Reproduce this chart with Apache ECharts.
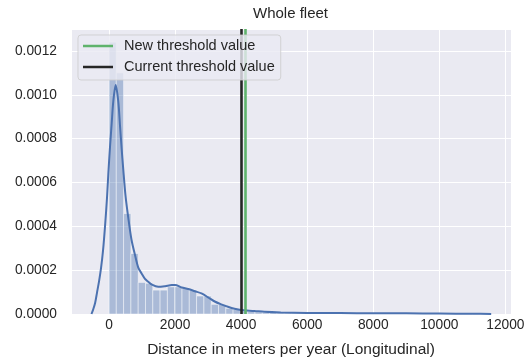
<!DOCTYPE html>
<html>
<head>
<meta charset="utf-8">
<script src="https://cdn.jsdelivr.net/npm/echarts@6/dist/echarts.min.js"></script>
<style>
  html, body { margin: 0; padding: 0; background: #ffffff; }
  #chart { width: 529px; height: 364px; }
</style>
</head>
<body>
<div id="chart"></div>
<script>
// Histogram of yearly longitudinal distance (density), 50 equal bins from 0 m
const binWidth = 221;
const binDensity = [
  0.00124, 0.00110, 0.000458, 0.000276, 0.000144, 0.000140, 0.000109, 0.000109, 0.000124, 0.000124,
  0.000118, 0.000109, 0.000082, 0.000082, 0.000044, 0.000044, 0.000026, 0.000021, 0.000014, 0.000011,
  0.000009, 0.000007, 0.000006, 0.000005, 0.000004, 0.000003, 0.000003, 0.000002, 0.000002, 0.000002,
  0.000001, 0.000001, 0.000001, 0.000001, 0.0000005, 0.0000005, 0.0000005, 0.0000005, 0.0000005, 0,
  0.0000005, 0, 0.0000005, 0, 0, 0.0000005, 0, 0, 0, 0.0000005
];

// Kernel density estimate: distance (m) and density
const kdeX = [
  -530, -480, -420, -360, -300, -240, -180, -120, -60, -20,
  30, 82, 130, 202, 281, 333, 380, 432, 500, 583,
  680, 786, 890, 988, 1090, 1188, 1300, 1490, 1700, 1900,
  2000, 2200, 2400, 2600, 2800, 3000, 3200, 3400, 3600, 3800,
  4000, 4400, 4700, 5200, 6000, 7000, 8000, 9000, 10000, 11000, 11570
];
const kdeY = [
  0, 0.00002, 0.00005, 0.0001, 0.00015, 0.00021, 0.00029, 0.0004, 0.00053, 0.00064,
  0.00076, 0.00087, 0.00097, 0.001045, 0.00097, 0.00086, 0.00076, 0.00066, 0.00054, 0.00044,
  0.00034, 0.00027, 0.00021, 0.000185, 0.00016, 0.000147, 0.000134, 0.000124, 0.000127, 0.000132,
  0.000132, 0.000121, 0.000114, 0.000104, 0.000094, 0.000076, 0.000057, 0.000044, 0.000033, 0.000024,
  0.000018, 0.000014, 0.00001, 0.000007, 0.000005, 0.000004, 0.000003, 0.000003, 0.000002, 0.000001, 0
];

// Threshold values (m)
const newThreshold = 4130;
const currentThreshold = 4000;

const yTicks = ['0.0000', '0.0002', '0.0004', '0.0006', '0.0008', '0.0010', '0.0012'];

const textColor = '#262626';
const fontFamily = '"Liberation Sans", Arial, sans-serif';

const histData = binDensity.map((d, i) => [i * binWidth, (i + 1) * binWidth, d]);
const kdeData = kdeX.map((x, i) => [x, kdeY[i]]);

const chart = echarts.init(document.getElementById('chart'), null, { renderer: 'canvas' });

chart.setOption({
  animation: false,
  backgroundColor: '#ffffff',
  title: {
    text: 'Whole fleet',
    left: 253,
    top: 6,
    padding: 0,
    textStyle: { color: textColor, fontSize: 15, fontWeight: 'normal', fontFamily: fontFamily }
  },
  grid: {
    left: 71, right: 18, top: 29, bottom: 50,
    show: true, backgroundColor: '#eaeaf2', borderWidth: 0
  },
  legend: {
    orient: 'vertical',
    left: 78, top: 35,
    z: 10,
    padding: [3, 6, 5, 5],
    itemGap: 5,
    itemWidth: 30, itemHeight: 2.5,
    icon: 'rect',
    backgroundColor: 'rgba(234,234,242,0.8)',
    borderColor: 'rgba(204,204,204,0.8)',
    borderWidth: 1,
    borderRadius: 3,
    textStyle: {
      color: textColor, fontSize: 14.5, fontFamily: fontFamily, lineHeight: 16,
      padding: [0, 0, 0, 6]
    },
    data: ['New threshold value', 'Current threshold value']
  },
  xAxis: {
    type: 'value',
    min: -1150, max: 12170,
    splitNumber: 7,
    name: 'Distance in meters per year (Longitudinal)',
    nameLocation: 'middle',
    nameGap: 28,
    nameTextStyle: { color: textColor, fontSize: 15.5, fontFamily: fontFamily },
    axisLine: { show: false },
    axisTick: { show: false },
    axisLabel: {
      color: textColor, fontSize: 13.75, fontFamily: fontFamily, margin: 4,
      showMinLabel: false, showMaxLabel: false,
      formatter: function (v) { return String(v); }
    },
    splitLine: { show: true, lineStyle: { color: '#ffffff', width: 1 } }
  },
  yAxis: {
    type: 'value',
    min: 0, max: 0.0013, interval: 0.0002,
    axisLine: { show: false },
    axisTick: { show: false },
    axisLabel: {
      color: textColor, fontSize: 13.75, fontFamily: fontFamily, margin: 14,
      showMaxLabel: false,
      formatter: function (v) {
        const idx = Math.round(v / 0.0002);
        return Math.abs(v - idx * 0.0002) < 1e-9 && yTicks[idx] ? yTicks[idx] : '';
      }
    },
    splitLine: { show: true, lineStyle: { color: '#ffffff', width: 1 } }
  },
  series: [
    {
      name: 'hist',
      type: 'custom',
      data: histData,
      encode: { x: [0, 1], y: 2 },
      z: 2,
      renderItem: function (params, api) {
        const p0 = api.coord([api.value(0), api.value(2)]);
        const p1 = api.coord([api.value(1), 0]);
        return {
          type: 'rect',
          shape: { x: p0[0], y: p0[1], width: p1[0] - p0[0], height: p1[1] - p0[1] },
          style: {
            fill: 'rgba(76,114,176,0.4)',
            stroke: 'rgba(255,255,255,0.45)',
            lineWidth: 1
          }
        };
      }
    },
    {
      name: 'kde',
      type: 'line',
      data: kdeData,
      smooth: 0.3,
      showSymbol: false,
      z: 3,
      lineStyle: { color: '#4c72b0', width: 2 }
    },
    {
      name: 'Current threshold value',
      type: 'line',
      data: [],
      color: '#262626',
      z: 4,
      markLine: {
        silent: true,
        symbol: ['none', 'none'],
        label: { show: false },
        lineStyle: { color: '#262626', width: 2.6, type: 'solid' },
        data: [{ xAxis: currentThreshold }]
      }
    },
    {
      name: 'New threshold value',
      type: 'line',
      data: [],
      color: '#5fb36c',
      z: 4,
      markLine: {
        silent: true,
        symbol: ['none', 'none'],
        label: { show: false },
        lineStyle: { color: '#5fb36c', width: 2.6, type: 'solid' },
        data: [{ xAxis: newThreshold }]
      }
    }
  ]
});
</script>
</body>
</html>
